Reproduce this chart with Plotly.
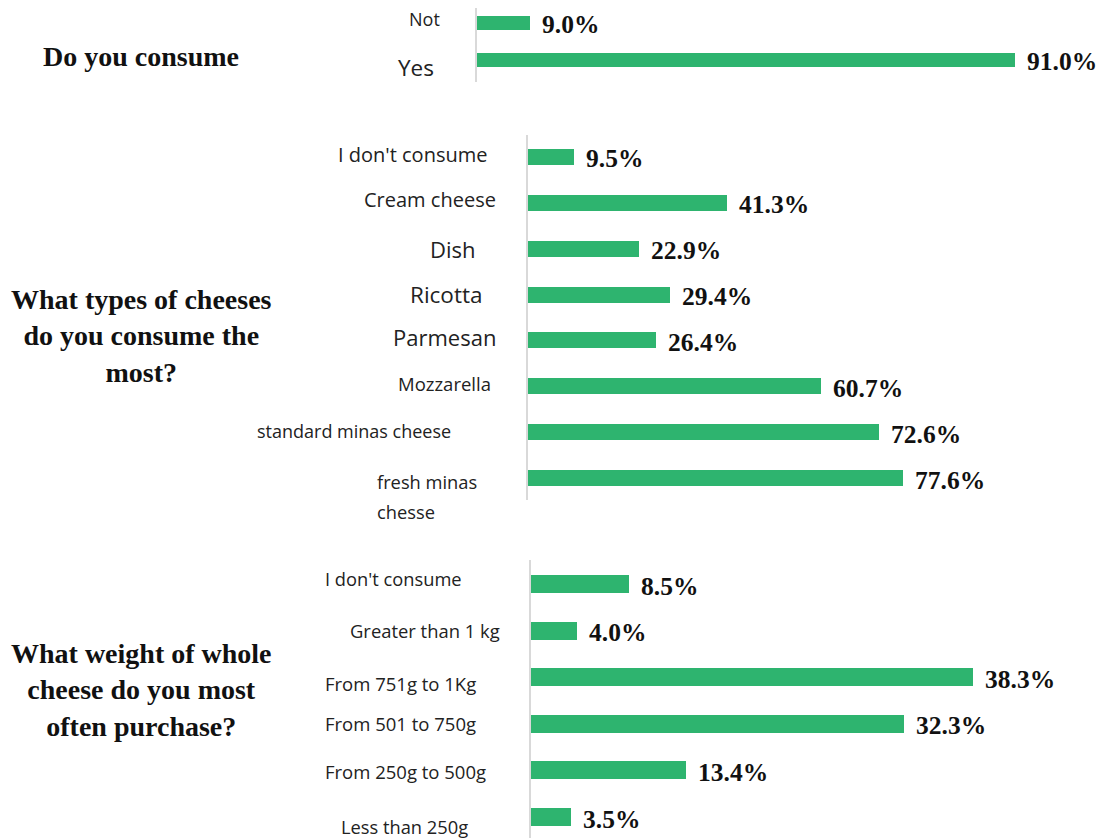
import plotly.graph_objects as go

W, H = 1103, 838

# ---------------- data ----------------
consume_cats = ["Not", "Yes"]
consume_vals = [9.0, 91.0]

types_cats = ["I don't consume", "Cream cheese", "Dish", "Ricotta", "Parmesan",
              "Mozzarella", "standard minas cheese", "fresh minas chesse"]
types_vals = [9.5, 41.3, 22.9, 29.4, 26.4, 60.7, 72.6, 77.6]

weight_cats = ["I don't consume", "Greater than 1 kg", "From 751g to 1Kg",
               "From 501 to 750g", "From 250g to 500g", "Less than 250g"]
weight_vals = [8.5, 4.0, 38.3, 32.3, 13.4, 3.5]

titles = ["Do you consume",
          "What types of cheeses<br>do you consume the<br>most?",
          "What weight of whole<br>cheese do you most<br>often purchase?"]

BAR = "#2eb46f"
LABEL_FONT = "Open Sans, Lato, sans-serif"
SERIF = "Liberation Serif, Times New Roman, serif"

# ---------------- layout geometry (pixels) ----------------
panels = [
    dict(x0=477, s=5.91, top=8, bot=82, c0=23, sp=37, bh=14),
    dict(x0=528, s=4.83, top=135, bot=500, c0=157, sp=45.86, bh=16),
    dict(x0=531, s=11.55, top=560, bot=838, c0=584, sp=46.6, bh=18),
]
data_sets = [(consume_cats, consume_vals), (types_cats, types_vals), (weight_cats, weight_vals)]

fig = go.Figure()
layout = dict(width=W, height=H, margin=dict(l=0, r=0, t=0, b=0),
              paper_bgcolor="white", plot_bgcolor="white", showlegend=False,
              bargap=0)
annotations = []

for i, (p, (cats, vals)) in enumerate(zip(panels, data_sets), start=1):
    xa = "x" if i == 1 else f"x{i}"
    ya = "y" if i == 1 else f"y{i}"
    n = len(cats)
    fig.add_trace(go.Bar(x=vals, y=cats, orientation="h", xaxis=xa, yaxis=ya,
                         marker=dict(color=BAR, line=dict(width=0)),
                         width=p["bh"] / p["sp"], hoverinfo="x+y"))
    xmax = (W - p["x0"]) / p["s"]
    layout[f"xaxis{'' if i == 1 else i}"] = dict(
        domain=[p["x0"] / W, 1.0], range=[0, xmax], visible=False, anchor=ya)
    rtop = -(p["c0"] - p["top"]) / p["sp"]
    rbot = (n - 1) + (p["bot"] - (p["c0"] + (n - 1) * p["sp"])) / p["sp"]
    layout[f"yaxis{'' if i == 1 else i}"] = dict(
        domain=[1 - p["bot"] / H, 1 - p["top"] / H], range=[rbot, rtop],
        type="category", categoryorder="array", categoryarray=cats,
        showticklabels=False, ticks="", showgrid=False, zeroline=False,
        showline=True, linecolor="#d9d9d9", linewidth=2, anchor=xa)
    for c, v in zip(cats, vals):
        annotations.append(dict(x=v, y=c, xref=xa, yref=ya, text=f"{v:.1f}%",
                                showarrow=False, xanchor="left", yanchor="middle",
                                xshift=10, yshift=-2,
                                font=dict(family=SERIF, size=25.5, color="#111111",
                                          weight="bold")))

# category labels: (panel, text, category, anchor, x px, yshift px, size)
cat_labels = [
    (1, "Not", "Not", "right", 442, 4, 18),
    (1, "Yes", "Yes", "right", 436, -8, 22.5),
    (2, "I don't consume", "I don't consume", "right", 489, 2, 20),
    (2, "Cream cheese", "Cream cheese", "right", 498, 3, 20),
    (2, "Dish", "Dish", "right", 478, 0, 22),
    (2, "Ricotta", "Ricotta", "right", 484, 0, 22.5),
    (2, "Parmesan", "Parmesan", "right", 498, 3, 22),
    (2, "Mozzarella", "Mozzarella", "right", 493, 3, 18.5),
    (2, "standard minas cheese", "standard minas cheese", "right", 453, 1, 18),
    (2, "fresh minas", "fresh minas chesse", "left", 375, -3, 18.3),
    (2, "chesse", "fresh minas chesse", "left", 375, -33, 18.3),
    (3, "I don't consume", "I don't consume", "left", 323, 6, 18.3),
    (3, "Greater than 1 kg", "Greater than 1 kg", "right", 502, 0, 18.4),
    (3, "From 751g to 1Kg", "From 751g to 1Kg", "left", 323, -6, 18.5),
    (3, "From 501 to 750g", "From 501 to 750g", "left", 323, 0, 18.5),
    (3, "From 250g to 500g", "From 250g to 500g", "left", 323, -1, 18.5),
    (3, "Less than 250g", "Less than 250g", "right", 470, -9, 18.3),
]
for pi, txt, cat, anc, xpx, ys, sz in cat_labels:
    ya = "y" if pi == 1 else f"y{pi}"
    annotations.append(dict(x=xpx / W, y=cat, xref="paper", yref=ya, text=txt,
                            showarrow=False, xanchor=anc, yanchor="middle",
                            yshift=ys, font=dict(family=LABEL_FONT, size=sz,
                                                 color="#222222")))

# panel titles: (text, centre y px)
title_pos = [56, 336, 690]
for t, ypx in zip(titles, title_pos):
    annotations.append(dict(x=141 / W, y=1 - ypx / H, xref="paper", yref="paper",
                            text=t, showarrow=False, xanchor="center",
                            yanchor="middle", align="center",
                            font=dict(family=SERIF, size=28, color="#111111",
                                      weight="bold")))

layout["annotations"] = annotations
fig.update_layout(**layout)
fig.write_html("out.html")
